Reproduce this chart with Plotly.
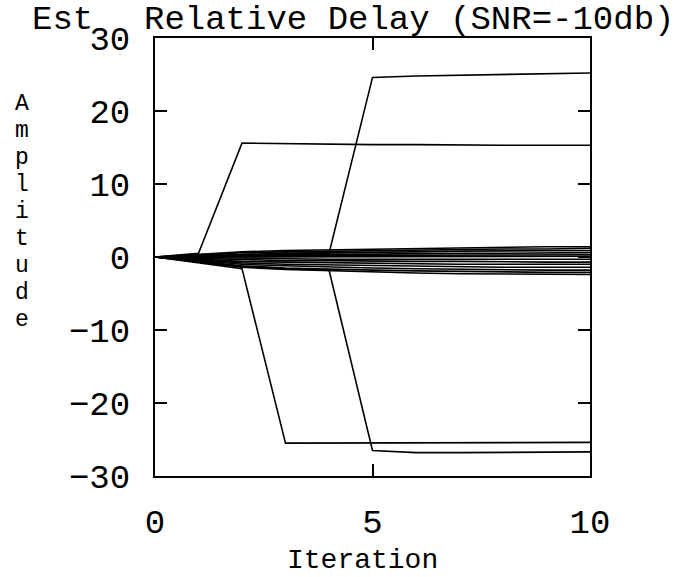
import plotly.graph_objects as go

iterations = [0, 1, 2, 3, 4, 5, 6, 7, 8, 9, 10]

# large-jump estimates
est_jump_up_a = [0, 0.5, 15.6, 15.5, 15.5, 15.4, 15.4, 15.3, 15.3, 15.3, 15.3]
est_jump_up_b = [0, 0.2, 0.4, 0.5, 0.5, 24.6, 24.8, 24.9, 25.0, 25.1, 25.2]
est_jump_dn_c = [0, -0.8, -1.6, -25.5, -25.5, -25.5, -25.5, -25.4, -25.4, -25.4, -25.4]
est_jump_dn_d = [0, -0.6, -1.3, -1.6, -1.8, -26.5, -26.8, -26.8, -26.8, -26.7, -26.7]

# estimates staying near zero
est_small = [
    [0, 0.4, 0.7, 0.9, 1.0, 1.1, 1.2, 1.3, 1.3, 1.4, 1.4],
    [0, 0.3, 0.6, 0.7, 0.8, 0.9, 1.0, 1.0, 1.1, 1.1, 1.2],
    [0, 0.2, 0.4, 0.5, 0.6, 0.6, 0.7, 0.8, 0.8, 0.9, 0.9],
    [0, 0.1, 0.3, 0.3, 0.4, 0.4, 0.5, 0.5, 0.5, 0.6, 0.6],
    [0, 0.1, 0.1, 0.2, 0.2, 0.2, 0.3, 0.3, 0.3, 0.3, 0.3],
    [0, 0.0, 0.0, 0.0, 0.1, 0.1, 0.1, 0.1, 0.1, 0.1, 0.1],
    [0, -0.1, -0.2, -0.2, -0.3, -0.3, -0.3, -0.3, -0.3, -0.3, -0.3],
    [0, -0.2, -0.4, -0.5, -0.5, -0.6, -0.6, -0.6, -0.7, -0.7, -0.7],
    [0, -0.3, -0.6, -0.7, -0.8, -0.9, -0.9, -1.0, -1.0, -1.0, -1.0],
    [0, -0.4, -0.8, -1.0, -1.1, -1.2, -1.3, -1.3, -1.4, -1.4, -1.4],
    [0, -0.5, -1.0, -1.2, -1.4, -1.5, -1.6, -1.7, -1.7, -1.8, -1.8],
    [0, -0.6, -1.2, -1.5, -1.7, -1.8, -1.9, -2.0, -2.0, -2.1, -2.1],
    [0, -0.7, -1.4, -1.7, -1.9, -2.0, -2.2, -2.3, -2.3, -2.4, -2.4],
]

x_ticks = [0, 5, 10]
y_ticks = [-30, -20, -10, 0, 10, 20, 30]
title_left = "Est"
title_right = "Relative Delay (SNR=-10db)"
x_title = "Iteration"
y_title = "Amplitude"

FONT = "Liberation Mono, Courier New, monospace"
W, H = 691, 577
L, R, T, B = 155, 590, 38, 476

fig = go.Figure()
for s in est_small + [est_jump_up_a, est_jump_up_b, est_jump_dn_c, est_jump_dn_d]:
    fig.add_trace(go.Scatter(x=iterations, y=s, mode="lines",
                             line=dict(color="black", width=1.6),
                             showlegend=False, hoverinfo="skip"))

fig.update_layout(
    width=W, height=H,
    margin=dict(l=L, r=W - R, t=T, b=H - B),
    paper_bgcolor="white", plot_bgcolor="white",
    font=dict(family=FONT, color="black"),
    xaxis=dict(range=[0, 10], tickvals=x_ticks, ticks="inside", ticklen=12,
               tickwidth=1.5, tickcolor="black", showgrid=False, zeroline=False,
               showline=True, linecolor="black", linewidth=2, mirror="ticks",
               tickfont=dict(size=34, family=FONT), ticklabelstandoff=14),
    yaxis=dict(range=[-30, 30], tickvals=y_ticks, ticks="inside", ticklen=12,
               tickwidth=1.5, tickcolor="black", showgrid=False, zeroline=False,
               showline=True, linecolor="black", linewidth=2, mirror="ticks",
               tickfont=dict(size=34, family=FONT), ticklabelstandoff=16),
)

def px(xp):
    return (xp - L) / (R - L)

def py(yp):
    return (B - yp) / (B - T)

ann = [
    dict(text=title_left, x=px(62), y=py(20), size=34),
    dict(text=title_right, x=px(409), y=py(20), size=34),
    dict(text=x_title, x=px(362), y=py(560), size=28),
]
for i, ch in enumerate(y_title):
    ann.append(dict(text=ch, x=px(22), y=py(104 + i * 27.0), size=23))

fig.update_layout(annotations=[
    dict(text=a["text"], x=a["x"], y=a["y"], xref="paper", yref="paper",
         showarrow=False, xanchor="center", yanchor="middle",
         font=dict(size=a["size"], family=FONT, color="black"))
    for a in ann
])

fig.write_html("out.html")
